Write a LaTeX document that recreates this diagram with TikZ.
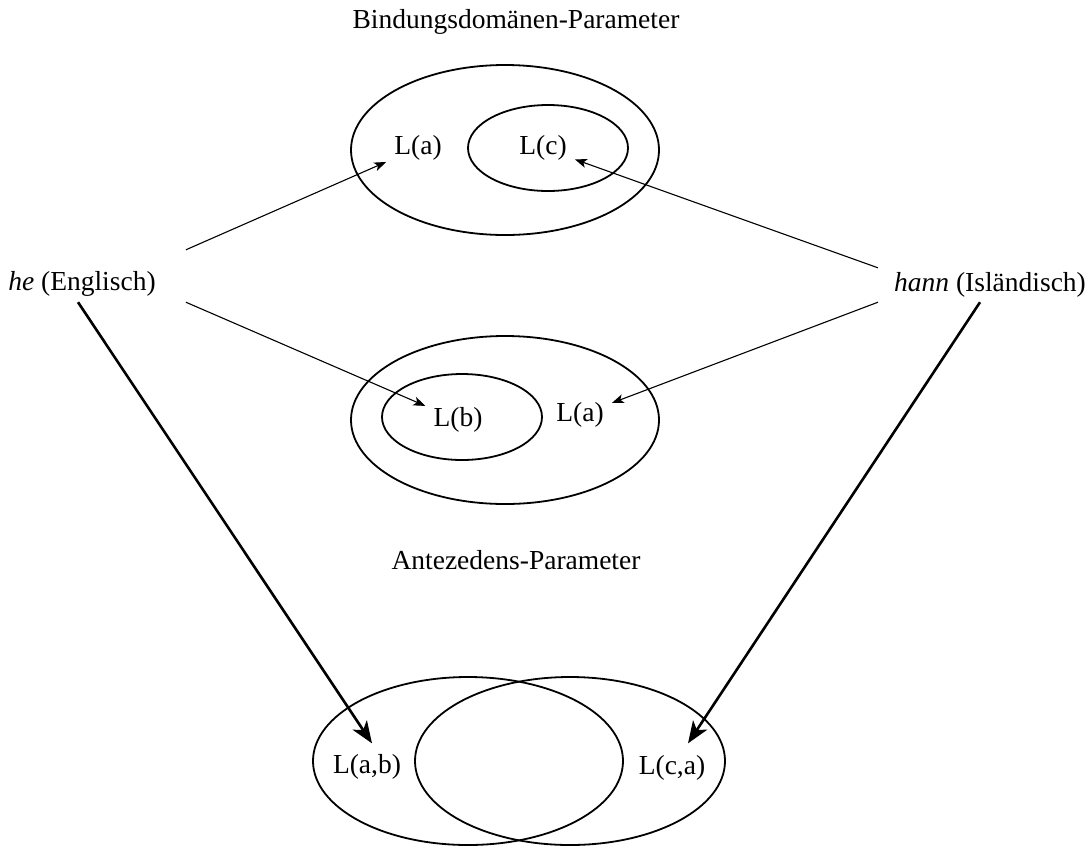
\documentclass[tikz,border=0pt]{standalone}
\usepackage{fontspec}
\setmainfont{Liberation Serif}
\usetikzlibrary{shapes.geometric,arrows.meta}

\tikzset{
  lab/.style={inner sep=0pt, font=\fontsize{27.5}{33}\selectfont},
  tgt/.style={lab, inner sep=8pt},
  oval/.style={ellipse, draw, line width=1.8pt, inner sep=0pt},
  thinarrow/.style={line width=1.1pt, -{Stealth[length=12pt,width=9pt,inset=3pt]}},
  thickarrow/.style={line width=2.6pt, -{Stealth[length=22pt,width=17pt,inset=6pt]}}
}

\begin{document}
\begin{tikzpicture}[x=1pt,y=-1pt]
  \useasboundingbox (0,0) rectangle (1092,847);

  % parameter titles
  \node[lab] (bdtitle) at (516,22) {Bindungsdomänen-Parameter};
  \node[lab] (antitle) at (516,560) {Antezedens-Parameter};

  % binding-domain parameter: L(c) inside L(a)
  \node[oval, minimum width=308pt, minimum height=170pt] (bdouter) at (505,150) {};
  \node[oval, minimum width=160pt, minimum height=86pt] (bdinner) at (548,148) {};
  \node[tgt] (bda) at (418,148) {L(a)};
  \node[tgt] (bdc) at (543,148) {L(c)};

  % antecedent parameter: L(b) inside L(a)
  \node[oval, minimum width=308pt, minimum height=168pt] (anouter) at (505,420) {};
  \node[oval, minimum width=160pt, minimum height=86pt] (aninner) at (462,417) {};
  \node[tgt] (anb) at (458,420) {L(b)};
  \node[tgt] (ana) at (580,415) {L(a)};

  % resulting languages: two overlapping sets
  \node[oval, minimum width=310pt, minimum height=168pt] (resleft) at (468,761) {};
  \node[oval, minimum width=310pt, minimum height=168pt] (resright) at (570,761) {};
  \node[lab] (resab) at (367,767) {L(a,b)};
  \node[lab] (resca) at (672,768) {L(c,a)};

  % the two pronouns
  \node[lab, minimum height=52pt, inner xsep=30pt] (he) at (82,284) {\textit{he} (Englisch)};
  \node[lab, minimum height=34pt, inner xsep=16pt] (hann) at (990,285) {\textit{hann} (Isländisch)};

  % settings of each pronoun
  \draw[thinarrow] ([yshift=8pt]he.north east) -- (bda);
  \draw[thinarrow] ([yshift=8pt]he.south east) -- (anb);
  \draw[thinarrow] (hann.north west) -- (bdc);
  \draw[thinarrow] (hann.south west) -- (ana);

  % combined languages
  \draw[thickarrow] ([xshift=-4pt,yshift=8pt]he.south) -- ([xshift=5pt,yshift=11pt]resab.north);
  \draw[thickarrow] ([xshift=-10pt]hann.south) -- ([xshift=16pt,yshift=12pt]resca.north);
\end{tikzpicture}
\end{document}
